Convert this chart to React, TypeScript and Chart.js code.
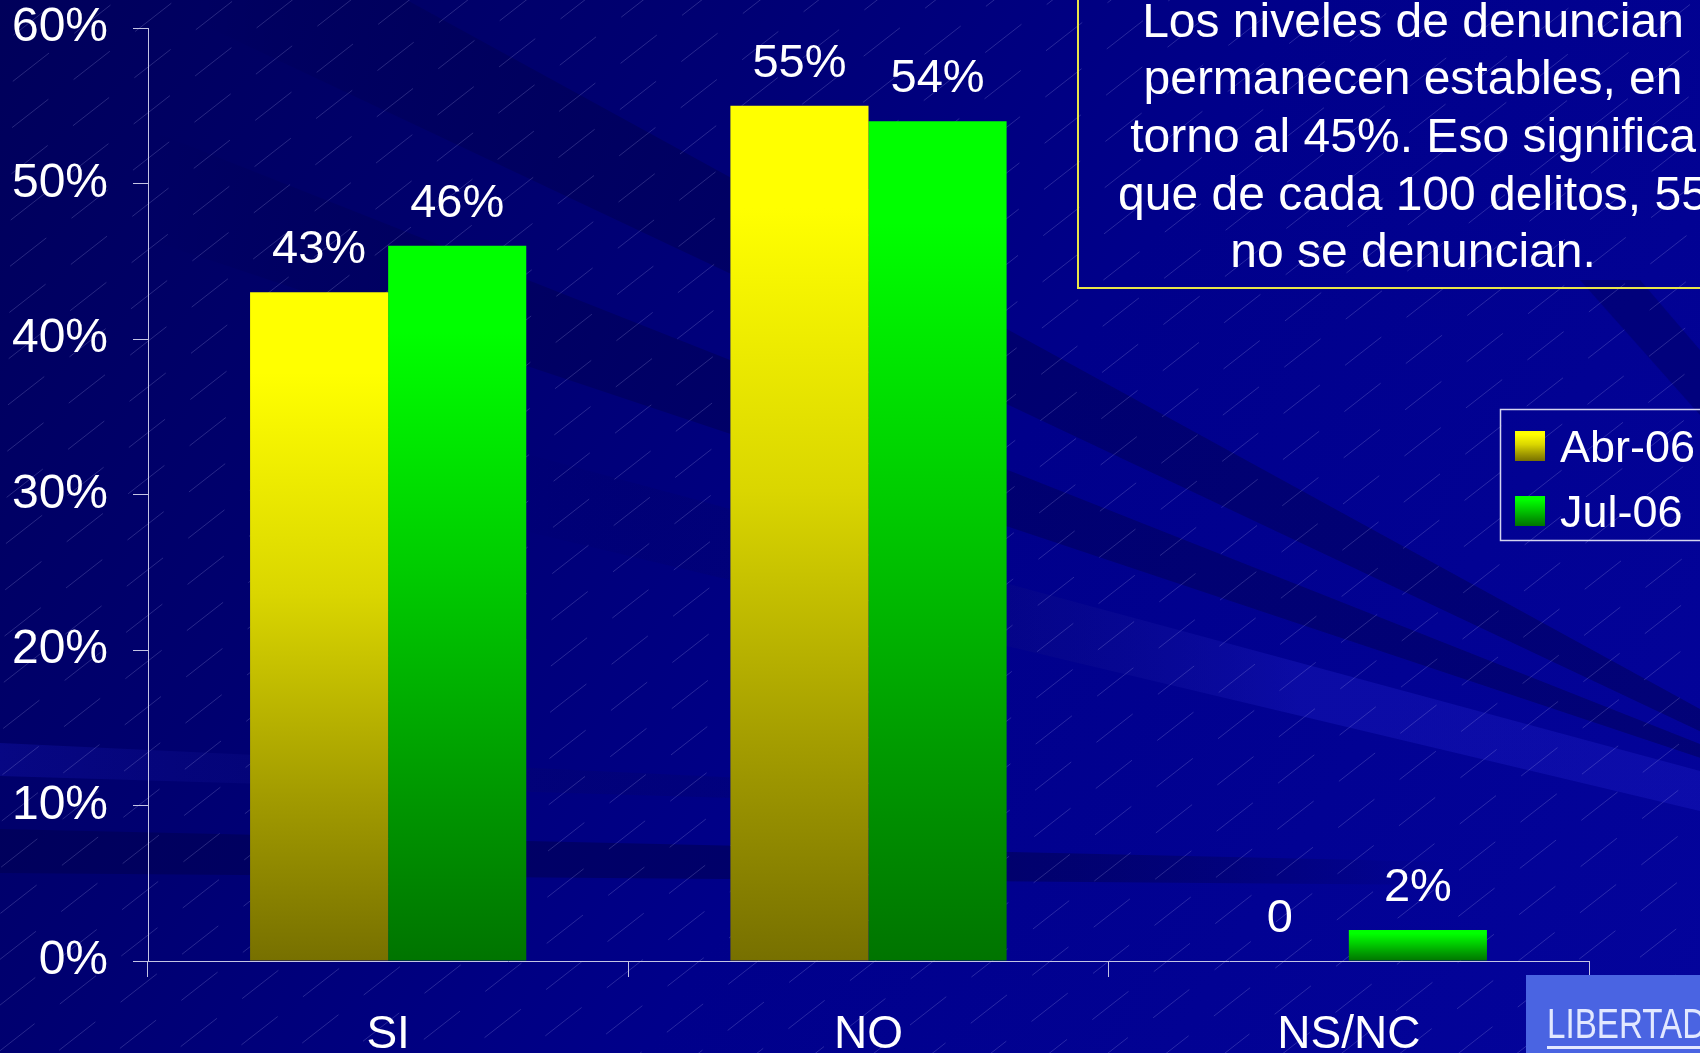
import React, { useEffect, useRef } from 'react';
import { Chart, registerables } from 'chart.js';

Chart.register(...registerables);

// ---- data ----
const categories = ['SI', 'NO', 'NS/NC'];
const seriesLabels = ['Abr-06', 'Jul-06'];
const abr06 = [43, 55, 0];
const jul06 = [46, 54, 2];
const yMin = 0;
const yMax = 60;
const yStep = 10;
const noteLines = [
  'Los niveles de denuncian',
  'permanecen estables, en',
  'torno al 45%. Eso significa',
  'que de cada 100 delitos, 55',
  'no se denuncian.',
];
const logoText = 'LIBERTAD';

// ---- style ----
const W = 1700;
const H = 1053;
const FONT = "'Liberation Sans', Arial, Helvetica, sans-serif";
const AXIS = '#c4c4e4';
const palettes = [
  { stops: ['#ffff00', '#ffff00', '#dad600', '#a39c00', '#777000'] },
  { stops: ['#00ff00', '#00ff00', '#00cc00', '#009a00', '#007400'] },
];
const stopPos = [0, 0.12, 0.45, 0.75, 1];

function makeGrad(c: CanvasRenderingContext2D, top: number, base: number, i: number) {
  const g = c.createLinearGradient(0, top, 0, base);
  palettes[i].stops.forEach((col, k) => g.addColorStop(stopPos[k], col));
  return g;
}

function barFill(ctx: any, dsIndex: number) {
  const chart = ctx.chart;
  const y = chart.scales && chart.scales.y;
  const first = palettes[dsIndex].stops[0];
  if (!y || ctx.type !== 'data') return first;
  const v = Number(ctx.raw) || 0;
  const top = y.getPixelForValue(v);
  const base = y.getPixelForValue(0);
  if (!isFinite(top) || !isFinite(base) || base - top < 1) return first;
  return makeGrad(chart.ctx, top, base, dsIndex);
}

function band(
  c: CanvasRenderingContext2D,
  pts: number[][],
  color: string,
  x0: number,
  x1: number,
  fadeLeft: boolean
) {
  const g = c.createLinearGradient(x0, 0, x1, 0);
  if (fadeLeft) {
    g.addColorStop(0, 'rgba(0,0,0,0)');
    g.addColorStop(1, color);
  } else {
    g.addColorStop(0, color);
    g.addColorStop(1, 'rgba(0,0,0,0)');
  }
  c.fillStyle = g;
  c.beginPath();
  pts.forEach((p, k) => (k === 0 ? c.moveTo(p[0], p[1]) : c.lineTo(p[0], p[1])));
  c.closePath();
  c.fill();
}

const backgroundPlugin = {
  id: 'bgPlugin',
  beforeDraw(chart: any) {
    const c: CanvasRenderingContext2D = chart.ctx;
    c.save();
    const g = c.createLinearGradient(0, 0, W, H);
    g.addColorStop(0, '#00005a');
    g.addColorStop(0.28, '#000070');
    g.addColorStop(0.55, '#00008a');
    g.addColorStop(1, '#04049c');
    c.fillStyle = g;
    c.fillRect(0, 0, W, H);

    // rays converging towards the right edge
    band(c, [[1990, 868], [0, -223], [0, -71]], 'rgba(0,0,80,0.45)', 200, 1000, true);
    band(c, [[1925, 833], [0, 71], [0, 190]], 'rgba(0,0,80,0.45)', 150, 1000, true);
    band(c, [[0, 312], [990, 579], [1700, 771], [1700, 811], [990, 642], [0, 406]], 'rgba(30,30,200,0.35)', 500, 1300, true);

    // light near-horizontal band
    band(c, [[0, 743], [1000, 790], [1000, 806], [0, 776]], 'rgba(20,20,180,0.35)', 0, 1100, false);
    // dark near-horizontal band at the bottom
    band(c, [[0, 829], [1450, 862], [1450, 885], [0, 873]], 'rgba(0,0,80,0.55)', 800, 1450, false);

    // steep dark ray top right
    c.fillStyle = 'rgba(0,0,80,0.35)';
    c.beginPath();
    c.moveTo(1580, 280);
    c.lineTo(1640, 280);
    c.lineTo(1700, 350);
    c.lineTo(1700, 415);
    c.closePath();
    c.fill();

    // hatch
    c.strokeStyle = 'rgba(200,200,255,0.2)';
    c.lineWidth = 1;
    const ang = (38 * Math.PI) / 180;
    const dx = Math.cos(ang), dy = -Math.sin(ang);
    const nx = Math.sin(ang), ny = Math.cos(ang);
    for (let k = -2; k < 56; k++) {
      const ox = k * 36 * nx, oy = k * 36 * ny;
      c.setLineDash([46, 32]);
      c.lineDashOffset = (k * 29) % 78;
      c.beginPath();
      c.moveTo(ox - 2400 * dx, oy - 2400 * dy);
      c.lineTo(ox + 2400 * dx, oy + 2400 * dy);
      c.stroke();
    }
    c.setLineDash([]);
    c.restore();
  },
};

const labelsPlugin = {
  id: 'labelsPlugin',
  afterDatasetsDraw(chart: any) {
    const c: CanvasRenderingContext2D = chart.ctx;
    c.save();
    c.fillStyle = '#ffffff';
    c.font = `47px ${FONT}`;
    c.textAlign = 'center';
    c.textBaseline = 'alphabetic';
    chart.data.datasets.forEach((ds: any, i: number) => {
      const meta = chart.getDatasetMeta(i);
      meta.data.forEach((el: any, j: number) => {
        const v = ds.data[j];
        const t = v === 0 ? '0' : `${v}%`;
        c.fillText(t, el.x, el.y - 29);
      });
    });
    c.restore();
  },
  afterDraw(chart: any) {
    const c: CanvasRenderingContext2D = chart.ctx;
    const xs = chart.scales.x;
    c.save();
    // category labels
    c.fillStyle = '#ffffff';
    c.font = `46px ${FONT}`;
    c.textAlign = 'center';
    c.textBaseline = 'alphabetic';
    categories.forEach((cat, i) => {
      c.fillText(cat, xs.getPixelForValue(i), 1048);
    });

    // note box
    c.strokeStyle = '#e8e448';
    c.lineWidth = 2;
    c.strokeRect(1078, -10, 700, 298);
    c.fillStyle = '#ffffff';
    c.font = `48px ${FONT}`;
    const baselines = [37, 94, 152, 210, 267];
    noteLines.forEach((line, i) => {
      c.fillText(line, 1413, baselines[i]);
    });

    // legend
    c.strokeStyle = '#d4d4f0';
    c.lineWidth = 1.5;
    c.strokeRect(1500.5, 409.5, 300, 131);
    const rows = [446, 511];
    seriesLabels.forEach((lab, i) => {
      const yc = rows[i];
      c.fillStyle = makeGrad(c, yc - 15, yc + 15, i);
      c.fillRect(1515, yc - 15, 30, 30);
      c.fillStyle = '#ffffff';
      c.font = `45px ${FONT}`;
      c.textAlign = 'left';
      c.textBaseline = 'alphabetic';
      c.fillText(lab, 1560, yc + 16);
    });

    // logo
    c.fillStyle = '#4a64e2';
    c.fillRect(1526, 975, 200, 100);
    c.save();
    c.translate(1547, 1038);
    c.scale(0.79, 1);
    c.fillStyle = '#e2e8ff';
    c.font = `42px ${FONT}`;
    c.textAlign = 'left';
    c.fillText(logoText, 0, 0);
    c.restore();
    c.fillStyle = '#e2e8ff';
    c.fillRect(1547, 1046, 170, 3);
    c.restore();
  },
};

export default function App() {
  const ref = useRef<HTMLCanvasElement | null>(null);

  useEffect(() => {
    document.body.style.margin = '0';
    document.body.style.overflow = 'hidden';
    const canvas = ref.current;
    if (!canvas) return;
    const chart = new Chart(canvas, {
      type: 'bar',
      data: {
        labels: categories,
        datasets: [
          {
            label: seriesLabels[0],
            data: abr06,
            backgroundColor: (ctx: any) => barFill(ctx, 0),
            borderWidth: 0,
            barPercentage: 1,
            categoryPercentage: 0.575,
          },
          {
            label: seriesLabels[1],
            data: jul06,
            backgroundColor: (ctx: any) => barFill(ctx, 1),
            borderWidth: 0,
            barPercentage: 1,
            categoryPercentage: 0.575,
          },
        ],
      },
      options: {
        animation: false,
        responsive: false,
        devicePixelRatio: 1,
        layout: { padding: { left: 0, right: 111, top: 28, bottom: 0 } },
        plugins: {
          legend: { display: false },
          tooltip: { enabled: false },
        },
        scales: {
          x: {
            type: 'category',
            offset: true,
            grid: {
              display: true,
              drawOnChartArea: false,
              drawTicks: true,
              tickLength: 16,
              color: AXIS,
              lineWidth: 1,
              offset: true,
            },
            border: { display: true, color: AXIS, width: 1 },
            ticks: { display: false },
            afterFit: (s: any) => {
              s.height = 92;
              s.paddingLeft = 0;
              s.paddingRight = 0;
            },
          },
          y: {
            min: yMin,
            max: yMax,
            ticks: {
              stepSize: yStep,
              color: '#ffffff',
              font: { family: FONT, size: 48 },
              padding: 25,
              callback: (v: any) => `${v}%`,
            },
            grid: {
              display: true,
              drawOnChartArea: false,
              drawTicks: true,
              tickLength: 15,
              color: AXIS,
              lineWidth: 1,
            },
            border: { display: true, color: AXIS, width: 1 },
            afterFit: (s: any) => {
              s.width = 148;
              s.paddingTop = 0;
              s.paddingBottom = 0;
            },
          },
        },
      },
      plugins: [backgroundPlugin, labelsPlugin],
    });
    return () => chart.destroy();
  }, []);

  return <canvas ref={ref} width={W} height={H} style={{ display: 'block' }} />;
}
